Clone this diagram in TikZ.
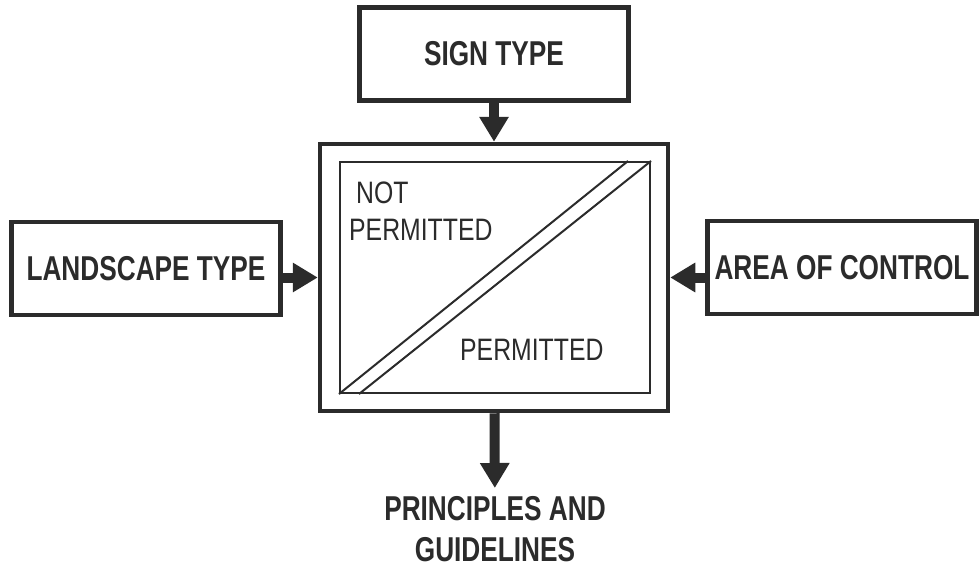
\documentclass[tikz,border=0pt]{standalone}
\usepackage{fontspec}
\newfontfamily\narrowsans{Liberation Sans}[FakeStretch=0.8]
\newfontfamily\tallsans{Liberation Sans}[FakeStretch=0.76]
\usetikzlibrary{arrows.meta,positioning}
\definecolor{inkgrey}{HTML}{2B2B2B}

\begin{document}
\begin{tikzpicture}[x=1pt,y=-1pt,
node distance=39pt and 35pt,
factor/.style={draw=inkgrey,line width=4.5pt,text=inkgrey,align=center,
font=\tallsans\bfseries\fontsize{34.5}{38}\selectfont,
minimum width=269pt,minimum height=93pt},
frame/.style={draw=inkgrey,line width=4.5pt,
minimum width=348pt,minimum height=267pt},
zone/.style={draw=inkgrey,line width=2pt,
minimum width=310pt,minimum height=231pt},
zonetext/.style={text=inkgrey,align=left,inner sep=0pt,
font=\narrowsans\fontsize{31}{37}\selectfont},
outcome/.style={text=inkgrey,align=center,inner sep=0pt,
font=\tallsans\bfseries\fontsize{34.5}{41}\selectfont},
split/.style={draw=inkgrey,line width=2pt},
flow/.style={-{Triangle[length=25pt,width=28pt]},line width=10pt,draw=inkgrey}
]
\useasboundingbox[fill=white] (0,0) rectangle (979,568);

\node[frame] (model) at (494,277.5) {};
\node[zone] (field) at (495,277.5) {};
\node[factor,above=of model] (sign) {SIGN TYPE};
\node[factor,left=of model,yshift=9pt] (land) {LANDSCAPE TYPE};
\node[factor,right=of model,yshift=10pt] (control) {AREA OF CONTROL};
\node[outcome,anchor=north] (rules) at (495,496) {PRINCIPLES AND\\GUIDELINES};

\draw[split] (field.south west) -- ([xshift=-23pt]field.north east);
\draw[split] ([xshift=20pt]field.south west) -- (field.north east);
\node[zonetext,anchor=north west,xshift=10pt,yshift=-21pt] (banned)
at (field.north west) {\hspace*{7pt}NOT\\PERMITTED};
\node[zonetext,anchor=base west] (allowed) at (460,360) {PERMITTED};

\draw[flow] (sign) -- (model);
\draw[flow] (land.east |- model) -- (model.west);
\draw[flow] (control.west |- model) -- (model.east);
\draw[flow,shorten >=8pt] (model) -- (rules);
\end{tikzpicture}
\end{document}
